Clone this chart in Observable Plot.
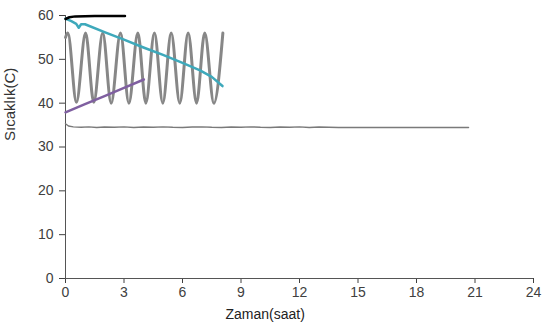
<!DOCTYPE html>
<html>
<head>
<meta charset="utf-8">
<script src="https://cdn.jsdelivr.net/npm/d3@7"></script>
<script src="https://cdn.jsdelivr.net/npm/@observablehq/plot@0.6"></script>
<style>
  html, body { margin: 0; padding: 0; background: #fff; }
  #chart svg { display: block; }
</style>
</head>
<body>
<div id="chart"></div>
<script>
const xTicks = [0, 3, 6, 9, 12, 15, 18, 21, 24];
const yTicks = [0, 10, 20, 30, 40, 50, 60];
const xLabel = "Zaman(saat)";
const yLabel = "Sıcaklık(C)";

// oscillating series (gray)
const oscT = [0, 0.12, 0.56, 1.03, 1.45, 1.91, 2.34, 2.82, 3.25, 3.71, 4.12, 4.56, 4.99, 5.42, 5.86, 6.29, 6.72, 7.14, 7.61, 8.07];
const oscV = [55, 56, 40.2, 56, 40.2, 56, 40, 56, 40, 56, 40, 56, 40, 56, 40, 56, 40, 56, 40, 56];

// cyan series
const cyanT = [0, 0.3, 0.55, 0.68, 0.8, 1.0, 2.0, 3.0, 4.0, 5.0, 6.0, 6.9, 7.5, 8.05];
const cyanV = [59.3, 58.7, 58.1, 57.2, 58.0, 58.0, 56.2, 54.5, 52.7, 51.0, 49.2, 47.5, 46.0, 43.9];

// purple series
const purpleT = [0, 1, 2, 3, 4.02];
const purpleV = [37.9, 39.8, 41.6, 43.5, 45.4];

// black series
const blackT = [0, 0.2, 0.5, 1.5, 3.05];
const blackV = [59.2, 59.6, 59.8, 59.9, 59.9];

// flat gray series
const flatT = [0, 0.15, 0.4, 0.8, 1.2, 1.6, 2.0, 2.5, 3.0, 3.5, 4.0, 4.5, 5.0, 5.5, 6.0, 6.5, 7.0, 7.5, 8.0, 8.5, 9.0, 9.5, 10.0, 10.5, 11.0, 11.5, 12.0, 12.5, 13.0, 13.5, 14.0, 20.67];
const flatV = [35.3, 34.8, 34.6, 34.5, 34.6, 34.45, 34.55, 34.5, 34.6, 34.45, 34.55, 34.5, 34.6, 34.5, 34.45, 34.55, 34.6, 34.5, 34.45, 34.55, 34.5, 34.6, 34.5, 34.45, 34.55, 34.5, 34.6, 34.45, 34.55, 34.5, 34.45, 34.45];

const zip = (t, v) => t.map((d, i) => ({t: d, v: v[i]}));
const osc = zip(oscT, oscV);
const cyan = zip(cyanT, cyanV);
const purple = zip(purpleT, purpleV);
const black = zip(blackT, blackV);
const flat = zip(flatT, flatV);

const font = "'Liberation Sans', Arial, sans-serif";
const axisColor = "#404040";

const chart = Plot.plot({
  width: 543,
  height: 336,
  marginLeft: 65,
  marginRight: 10,
  marginTop: 15,
  marginBottom: 58,
  style: {fontFamily: font, fontSize: "14px", color: axisColor, background: "#fff"},
  x: {domain: [0, 24]},
  y: {domain: [0, 60]},
  marks: [
    Plot.axisX({ticks: xTicks, tickSize: 5, tickPadding: 4, label: null, fontSize: 14}),
    Plot.axisY({ticks: yTicks, tickSize: 6, tickPadding: 6, label: null, fontSize: 14}),
    Plot.ruleY([0], {stroke: "#555", strokeWidth: 1}),
    Plot.ruleX([0], {stroke: "#555", strokeWidth: 1}),
    Plot.line(flat, {x: "t", y: "v", stroke: "#7a7a7a", strokeWidth: 1.4}),
    Plot.line(osc, {x: "t", y: "v", stroke: "#878787", strokeWidth: 3, curve: "monotone-x"}),
    Plot.line(purple, {x: "t", y: "v", stroke: "#7f5fa0", strokeWidth: 2.5}),
    Plot.line(cyan, {x: "t", y: "v", stroke: "#3ea9bb", strokeWidth: 2.5}),
    Plot.line(black, {x: "t", y: "v", stroke: "#000", strokeWidth: 2.5}),
    Plot.text([xLabel], {frameAnchor: "bottom-left", dx: 160, dy: 40, text: d => d, fontSize: 14, fill: "#222"}),
    Plot.text([yLabel], {frameAnchor: "left", dx: -55, dy: -6, rotate: -90, text: d => d, fontSize: 15, fill: "#333"})
  ]
});
document.getElementById("chart").appendChild(chart);
</script>
</body>
</html>
